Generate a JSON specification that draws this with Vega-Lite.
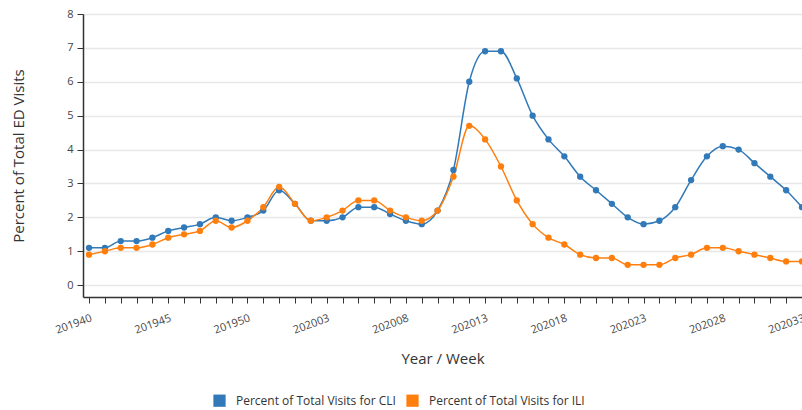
{
  "$schema": "https://vega.github.io/schema/vega-lite/v6.json",
  "width": 719,
  "height": 283,
  "autosize": {"type": "none"},
  "padding": {"left": 83, "top": 14, "right": 0, "bottom": 113},
  "background": "white",
  "config": {
    "font": "Open Sans",
    "view": {"stroke": null},
    "axis": {"labelFont": "Open Sans", "titleFont": "Open Sans"}
  },
  "data": {
    "values": [
      {"week": "201940", "CLI": 1.1, "ILI": 0.9},
      {"week": "201941", "CLI": 1.1, "ILI": 1.0},
      {"week": "201942", "CLI": 1.3, "ILI": 1.1},
      {"week": "201943", "CLI": 1.3, "ILI": 1.1},
      {"week": "201944", "CLI": 1.4, "ILI": 1.2},
      {"week": "201945", "CLI": 1.6, "ILI": 1.4},
      {"week": "201946", "CLI": 1.7, "ILI": 1.5},
      {"week": "201947", "CLI": 1.8, "ILI": 1.6},
      {"week": "201948", "CLI": 2.0, "ILI": 1.9},
      {"week": "201949", "CLI": 1.9, "ILI": 1.7},
      {"week": "201950", "CLI": 2.0, "ILI": 1.9},
      {"week": "201951", "CLI": 2.2, "ILI": 2.3},
      {"week": "201952", "CLI": 2.8, "ILI": 2.9},
      {"week": "202001", "CLI": 2.4, "ILI": 2.4},
      {"week": "202002", "CLI": 1.9, "ILI": 1.9},
      {"week": "202003", "CLI": 1.9, "ILI": 2.0},
      {"week": "202004", "CLI": 2.0, "ILI": 2.2},
      {"week": "202005", "CLI": 2.3, "ILI": 2.5},
      {"week": "202006", "CLI": 2.3, "ILI": 2.5},
      {"week": "202007", "CLI": 2.1, "ILI": 2.2},
      {"week": "202008", "CLI": 1.9, "ILI": 2.0},
      {"week": "202009", "CLI": 1.8, "ILI": 1.9},
      {"week": "202010", "CLI": 2.2, "ILI": 2.2},
      {"week": "202011", "CLI": 3.4, "ILI": 3.2},
      {"week": "202012", "CLI": 6.0, "ILI": 4.7},
      {"week": "202013", "CLI": 6.9, "ILI": 4.3},
      {"week": "202014", "CLI": 6.9, "ILI": 3.5},
      {"week": "202015", "CLI": 6.1, "ILI": 2.5},
      {"week": "202016", "CLI": 5.0, "ILI": 1.8},
      {"week": "202017", "CLI": 4.3, "ILI": 1.4},
      {"week": "202018", "CLI": 3.8, "ILI": 1.2},
      {"week": "202019", "CLI": 3.2, "ILI": 0.9},
      {"week": "202020", "CLI": 2.8, "ILI": 0.8},
      {"week": "202021", "CLI": 2.4, "ILI": 0.8},
      {"week": "202022", "CLI": 2.0, "ILI": 0.6},
      {"week": "202023", "CLI": 1.8, "ILI": 0.6},
      {"week": "202024", "CLI": 1.9, "ILI": 0.6},
      {"week": "202025", "CLI": 2.3, "ILI": 0.8},
      {"week": "202026", "CLI": 3.1, "ILI": 0.9},
      {"week": "202027", "CLI": 3.8, "ILI": 1.1},
      {"week": "202028", "CLI": 4.1, "ILI": 1.1},
      {"week": "202029", "CLI": 4.0, "ILI": 1.0},
      {"week": "202030", "CLI": 3.6, "ILI": 0.9},
      {"week": "202031", "CLI": 3.2, "ILI": 0.8},
      {"week": "202032", "CLI": 2.8, "ILI": 0.7},
      {"week": "202033", "CLI": 2.3, "ILI": 0.7}
    ]
  },
  "transform": [
    {"fold": ["CLI", "ILI"], "as": ["key", "value"]},
    {"lookup": "key", "from": {"data": {"values": [
      {"key": "CLI", "series": "Percent of Total Visits for CLI"},
      {"key": "ILI", "series": "Percent of Total Visits for ILI"}
    ]}, "key": "key", "fields": ["series"]}}
  ],
  "encoding": {
    "x": {
      "field": "week",
      "type": "ordinal",
      "sort": null,
      "scale": {"type": "point", "padding": 0.19, "align": 1},
      "axis": {
        "title": "Year / Week",
        "titleFontSize": 15,
        "titleFontWeight": "normal",
        "titleColor": "#333333",
        "titlePadding": 16,
        "labelAngle": -20,
        "labelAlign": "right",
        "labelBaseline": "top",
        "labelFontSize": 11,
        "labelColor": "#444444",
        "labelPadding": 9,
        "labelOverlap": false,
        "labelExpr": "indexof(['201940','201945','201950','202003','202008','202013','202018','202023','202028','202033'], datum.value) >= 0 ? datum.value : ''",
        "domainColor": "#333333",
        "domainWidth": 1.5,
        "tickColor": "#333333",
        "tickSize": 6,
        "grid": false
      }
    },
    "y": {
      "field": "value",
      "type": "quantitative",
      "scale": {"domain": [-0.35, 8], "nice": false, "zero": false},
      "axis": {
        "title": "Percent of Total ED Visits",
        "titleFontSize": 15,
        "titleFontWeight": "normal",
        "titleColor": "#333333",
        "titlePadding": 40,
        "values": [0, 1, 2, 3, 4, 5, 6, 7, 8],
        "format": "d",
        "labelFontSize": 11,
        "labelColor": "#444444",
        "labelPadding": 4,
        "domainColor": "#333333",
        "domainWidth": 1.5,
        "tickColor": "#333333",
        "tickSize": 6,
        "gridColor": "#e8e8e8",
        "gridWidth": 1.5
      }
    },
    "color": {
      "field": "series",
      "type": "nominal",
      "scale": {"range": ["#3179b8", "#ff7f0e"]},
      "legend": {
        "title": null,
        "orient": "none",
        "direction": "horizontal",
        "legendX": 130,
        "legendY": 380,
        "symbolType": "square",
        "symbolSize": 150,
        "symbolStrokeWidth": 0,
        "symbolOpacity": 1,
        "labelFontSize": 12,
        "labelLimit": 400,
        "labelColor": "#333333",
        "columnPadding": 10,
        "labelOffset": 10
      }
    }
  },
  "layer": [
    {"mark": {"type": "line", "interpolate": "monotone", "strokeWidth": 1.5}},
    {"mark": {"type": "circle", "size": 40, "opacity": 1}}
  ]
}
